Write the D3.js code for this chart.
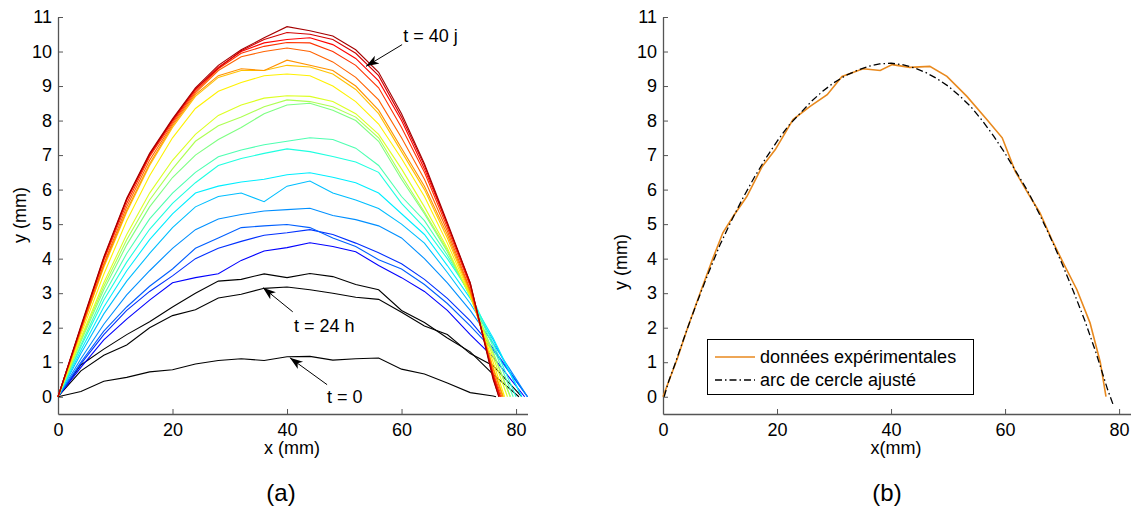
<!DOCTYPE html>
<html><head><meta charset="utf-8">
<script src="https://cdn.jsdelivr.net/npm/d3@7"></script>
<style>
body{margin:0;background:#fff}
svg{display:block}
text{font-family:"Liberation Sans",Arial,sans-serif;fill:#000}
</style>
</head><body>
<svg id="c" width="1135" height="508"></svg>
<script>
// ---------- DATA ----------
const xGrid = [0,4,8,12,16,20,24,28,32,36,40,44,48,52,56,60,64,68,72,76];

// black profiles (t = 0, t = 24 h, next)
const blackProfiles = [
  [0,0.15,0.45,0.56,0.72,0.78,0.95,1.05,1.1,1.05,1.16,1.17,1.06,1.1,1.12,0.8,0.66,0.4,0.12,0.02],
  [0,0.75,1.2,1.5,2.0,2.35,2.52,2.86,2.97,3.14,3.18,3.1,3.0,2.88,2.82,2.45,2.05,1.8,1.25,0.9],
  [0,0.92,1.38,1.8,2.17,2.6,3.0,3.35,3.4,3.56,3.45,3.57,3.48,3.25,3.1,2.5,2.15,1.7,1.3,0.65]
];
const blackEnds = [76.5, 81, 80.5];

// coloured profiles (chronological, jet colormap)
const colorProfiles = [
  [0,0.85,1.65,2.25,2.8,3.3,3.45,3.56,3.95,4.22,4.32,4.46,4.35,4.2,3.8,3.45,3.05,2.5,1.8,1.15],
  [0,0.95,1.8,2.5,3.05,3.5,4.0,4.3,4.5,4.68,4.75,4.84,4.7,4.45,4.17,3.85,3.4,2.85,2.2,1.4],
  [0,1.0,1.9,2.6,3.2,3.7,4.3,4.6,4.9,4.95,4.99,4.9,4.6,4.35,3.97,3.7,3.25,2.7,2.05,1.35],
  [0,1.1,2.1,2.95,3.65,4.3,4.84,5.15,5.28,5.38,5.42,5.46,5.25,5.13,4.95,4.6,4.0,3.3,2.5,1.55],
  [0,1.25,2.4,3.35,4.15,4.9,5.5,5.8,5.9,5.65,6.1,6.25,5.9,5.7,5.45,5.0,4.45,3.6,2.7,1.65],
  [0,1.35,2.6,3.65,4.55,5.3,5.9,6.1,6.22,6.3,6.43,6.49,6.36,6.2,5.9,5.3,4.7,3.8,2.85,1.7],
  [0,1.45,2.8,3.9,4.85,5.6,6.2,6.7,6.9,7.05,7.18,7.1,6.96,6.8,6.5,5.6,4.9,4.0,3.0,1.55],
  [0,1.5,2.95,4.15,5.15,5.9,6.5,6.95,7.15,7.3,7.4,7.5,7.45,7.2,6.7,5.8,5.1,4.1,2.95,1.45],
  [0,1.6,3.1,4.4,5.5,6.35,7.0,7.45,7.8,8.2,8.45,8.5,8.3,8.0,7.4,6.3,5.3,4.2,2.9,1.3],
  [0,1.65,3.2,4.55,5.7,6.6,7.4,7.85,8.1,8.4,8.6,8.55,8.4,8.1,7.5,6.4,5.35,4.25,2.9,1.25],
  [0,1.7,3.3,4.7,5.9,6.85,7.6,8.15,8.45,8.65,8.72,8.7,8.55,8.2,7.6,6.6,5.5,4.3,2.9,1.15],
  [0,1.8,3.55,5.1,6.4,7.5,8.35,8.85,9.1,9.3,9.35,9.3,9.0,8.55,7.9,6.9,5.8,4.45,2.95,1.0],
  [0,1.9,3.75,5.35,6.7,7.8,8.7,9.25,9.45,9.45,9.6,9.55,9.35,8.9,8.2,7.1,6.0,4.6,3.0,0.85],
  [0,1.9,3.8,5.4,6.75,7.85,8.75,9.3,9.5,9.45,9.75,9.6,9.45,9.0,8.3,7.2,6.1,4.7,3.05,0.8],
  [0,1.95,3.85,5.5,6.85,7.9,8.8,9.45,9.85,10.0,10.1,10.0,9.7,9.25,8.6,7.5,6.3,4.8,3.1,0.7],
  [0,2.0,3.95,5.6,6.95,7.95,8.85,9.5,9.95,10.15,10.26,10.25,10.0,9.6,8.95,7.8,6.5,4.9,3.2,0.65],
  [0,2.0,4.0,5.7,7.0,8.0,8.9,9.55,10.0,10.25,10.35,10.4,10.2,9.8,9.15,8.0,6.6,5.0,3.25,0.6],
  [0,2.02,4.02,5.72,7.02,8.02,8.92,9.52,10.02,10.35,10.55,10.5,10.35,9.95,9.3,8.1,6.7,5.0,3.3,0.55],
  [0,2.05,4.05,5.75,7.05,8.05,8.95,9.6,10.05,10.4,10.72,10.6,10.45,10.05,9.4,8.2,6.75,5.05,3.3,0.5]
];
const colorEnds = [81.5,82,82,82,81,81,80,79.5,79,79,78.5,78,77.8,77.7,77.5,77.3,77.2,77,77];

// annotations (panel a)
const annotLabels = ["t = 40 j", "t = 24 h", "t = 0"];
const annotTips   = [[53.8, 9.57], [35.8, 3.16], [40.5, 1.13]];
const annotTails  = [[60.1, 10.2], [41.0, 2.46], [47.0, 0.35]];
const annotTexts  = [[60.3, 10.29], [41.2, 1.88], [47.0, -0.17]];

// panel b
const expX = [0,2.5,4.2,6.5,8.8,10.5,12.3,14.7,17.4,19.7,22.8,25.8,28.8,31.4,35.1,38.1,40.2,43.3,46.8,49.8,53.3,56.8,59.5,61.8,64,66.1,68.2,70.2,72.6,74.9,76.7,77.7];
const expY = [0,1.1,1.94,3.0,4.03,4.75,5.22,5.8,6.67,7.16,8.03,8.41,8.75,9.28,9.5,9.45,9.62,9.54,9.57,9.28,8.7,8.03,7.5,6.52,5.9,5.33,4.55,3.88,3.1,2.14,1.0,0];
const arcX = [0.2,1,2,4,6,8,10,12,14,16,18,20,22,24,26,28,30,32,34,36,38,40,42,44,46,48,50,52,54,56,58,60,62,64,66,68,70,72,74,76,78,79];
const arcY = [0,0.45,0.9,1.85,2.75,3.6,4.4,5.1,5.75,6.35,6.9,7.4,7.85,8.2,8.55,8.85,9.1,9.3,9.45,9.57,9.64,9.66,9.62,9.53,9.4,9.22,9.0,8.72,8.4,8.0,7.55,7.05,6.5,5.95,5.3,4.6,3.85,3.05,2.2,1.25,0.2,-0.25];
const legendLabels = ["données expérimentales", "arc de cercle ajusté"];

const xTicks = [0,20,40,60,80];
const yTicks = [0,1,2,3,4,5,6,7,8,9,10,11];

// ---------- DRAW ----------
const svg = d3.select("#c");
const jet = d3.scaleLinear()
  .domain([0,0.125,0.375,0.625,0.875,1])
  .range(["#000080","#0000ff","#00ffff","#ffff00","#ff0000","#800000"])
  .interpolate(d3.interpolateRgb);

const defs = svg.append("defs");
defs.append("marker").attr("id","arr")
  .attr("viewBox","-13 -6 14 12").attr("refX",0).attr("refY",0)
  .attr("markerWidth",14).attr("markerHeight",12)
  .attr("markerUnits","userSpaceOnUse").attr("orient","auto")
  .append("path").attr("d","M0,0 L-13,-4.5 L-9.5,0 L-13,4.5 Z").attr("fill","#000");

function drawAxes(g, x, y) {
  const ax = g.append("g").attr("transform",`translate(0,${y(-0.5)})`)
    .call(d3.axisBottom(x).tickValues(xTicks).tickSizeInner(-5).tickSizeOuter(0).tickPadding(9));
  const ay = g.append("g").attr("transform",`translate(${x(0)},0)`)
    .call(d3.axisLeft(y).tickValues(yTicks).tickSizeInner(-5).tickSizeOuter(0).tickPadding(6));
  [ax, ay].forEach(a => {
    a.select(".domain").attr("stroke","#555").attr("stroke-width",1.3);
    a.selectAll(".tick line").attr("stroke","#555").attr("stroke-width",1);
    a.selectAll(".tick text").attr("font-size",18).attr("font-family","Liberation Sans, Arial, sans-serif").attr("fill","#000");
  });
}

// Panel (a)
const xa = d3.scaleLinear().domain([0,82]).range([58,527.5]);
const ya = d3.scaleLinear().domain([-0.5,11]).range([414,17]);
const ga = svg.append("g");
drawAxes(ga, xa, ya);

const lineA = d3.line().x(d => xa(d[0])).y(d => ya(d[1]));
function pts(vals, end) { const p = xGrid.map((x,i) => [x, vals[i]]); p.push([end, 0]); return p; }

blackProfiles.forEach((vals,i) => {
  ga.append("path").attr("d", lineA(pts(vals, blackEnds[i])))
    .attr("fill","none").attr("stroke","#000").attr("stroke-width",1.1);
});
const nC = colorProfiles.length;
colorProfiles.forEach((vals,i) => {
  ga.append("path").attr("d", lineA(pts(vals, colorEnds[i])))
    .attr("fill","none").attr("stroke", jet(0.125 + i*(0.84/(nC-1)))).attr("stroke-width",1.1);
});

annotLabels.forEach((lab,i) => {
  ga.append("line")
    .attr("x1", xa(annotTails[i][0])).attr("y1", ya(annotTails[i][1]))
    .attr("x2", xa(annotTips[i][0])).attr("y2", ya(annotTips[i][1]))
    .attr("stroke","#000").attr("stroke-width",1).attr("marker-end","url(#arr)");
  ga.append("text").attr("x", xa(annotTexts[i][0])).attr("y", ya(annotTexts[i][1]))
    .attr("font-size",18).text(lab);
});

svg.append("text").attr("x",292).attr("y",454).attr("text-anchor","middle").attr("font-size",18).text("x (mm)");
svg.append("text").attr("transform","translate(26,215) rotate(-90)").attr("text-anchor","middle").attr("font-size",18).text("y (mm)");
svg.append("text").attr("x",281).attr("y",501).attr("text-anchor","middle").attr("font-size",24)
  .attr("font-family","Noto Sans, DejaVu Sans, sans-serif").text("(a)");

// Panel (b)
const xb = d3.scaleLinear().domain([0,82]).range([663,1130.5]);
const yb = ya;
const gb = svg.append("g");
drawAxes(gb, xb, yb);
const lineB = d3.line().x(d => xb(d[0])).y(d => yb(d[1]));
gb.append("path").attr("d", lineB(expX.map((x,i)=>[x,expY[i]])))
  .attr("fill","none").attr("stroke","#e8891e").attr("stroke-width",1.6);
gb.append("path").attr("d", lineB(arcX.map((x,i)=>[x,arcY[i]])))
  .attr("fill","none").attr("stroke","#000").attr("stroke-width",1.3)
  .attr("stroke-dasharray","7,3,1.5,3");

svg.append("text").attr("x",896).attr("y",454).attr("text-anchor","middle").attr("font-size",18).text("x(mm)");
svg.append("text").attr("transform","translate(627,262) rotate(-90)").attr("text-anchor","middle").attr("font-size",18).text("y (mm)");
svg.append("text").attr("x",887).attr("y",501).attr("text-anchor","middle").attr("font-size",24)
  .attr("font-family","Noto Sans, DejaVu Sans, sans-serif").text("(b)");

// legend
const lg = svg.append("g");
lg.append("rect").attr("x",707.5).attr("y",339.5).attr("width",266).attr("height",55)
  .attr("fill","#fff").attr("stroke","#000").attr("stroke-width",1);
lg.append("line").attr("x1",715).attr("x2",755).attr("y1",357).attr("y2",357)
  .attr("stroke","#e8891e").attr("stroke-width",1.6);
lg.append("line").attr("x1",715).attr("x2",755).attr("y1",380).attr("y2",380)
  .attr("stroke","#000").attr("stroke-width",1.3).attr("stroke-dasharray","7,3,1.5,3");
legendLabels.forEach((t,i) => {
  lg.append("text").attr("x",760).attr("y",363 + i*23).attr("font-size",18).text(t);
});
</script>
</body></html>
